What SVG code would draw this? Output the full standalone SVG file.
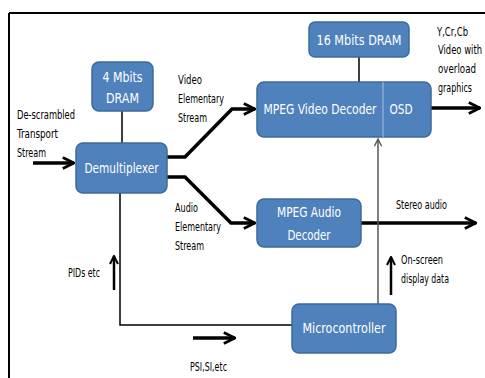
<svg xmlns="http://www.w3.org/2000/svg" width="485" height="378" viewBox="0 0 485 378">
<defs>
<marker id="ah" viewBox="0 0 10 10" refX="9" refY="5" markerWidth="4" markerHeight="4" orient="auto" markerUnits="strokeWidth"><path d="M1,1 L9,5 L1,9" fill="none" stroke="#000" stroke-width="2"/></marker>
<marker id="ahs" viewBox="0 0 10 10" refX="9" refY="5" markerWidth="6" markerHeight="6" orient="auto" markerUnits="strokeWidth"><path d="M1,1 L9,5 L1,9" fill="none" stroke="#555" stroke-width="1.5"/></marker>
</defs>
<style>
.box{fill:#4f81bd;stroke:#3c6a9c;stroke-width:1.5}
.bt{fill:#fff;font-family:"Liberation Sans Narrow","DejaVu Sans Condensed","Liberation Sans",sans-serif;font-size:14px;text-anchor:middle}
.lb{fill:#000;font-family:"Liberation Sans Narrow","DejaVu Sans Condensed","Liberation Sans",sans-serif;font-size:11.5px}
.thick{fill:none;stroke:#000;stroke-width:3.5}
.thin{fill:none;stroke:#000;stroke-width:1.5}
</style>
<rect width="485" height="378" fill="#fff"/>
<g id="frame">
<line x1="9" y1="13" x2="485" y2="13" stroke="#000" stroke-width="2"/>
<line x1="9" y1="13" x2="9" y2="378" stroke="#000" stroke-width="2"/>
</g>
<g id="connectors">
<line class="thin" x1="122" y1="111" x2="122" y2="143"/>
<line class="thin" x1="359" y1="57" x2="359" y2="82"/>
<path class="thick" d="M33,163 H74" marker-end="url(#ah)"/>
<path class="thick" d="M167,157 H185 L232,109 H255" marker-end="url(#ah)"/>
<path class="thick" d="M167,177 H185 L231,223 H255" marker-end="url(#ah)"/>
<path class="thick" d="M431,108 H480" marker-end="url(#ah)"/>
<path class="thick" d="M361,223 H476" marker-end="url(#ah)"/>
<path fill="none" stroke="#555" stroke-width="1.5" d="M378,304 V139" marker-end="url(#ahs)"/>
<path class="thin" d="M120,193 V325 H292"/>
<path fill="none" stroke="#000" stroke-width="2.5" d="M114,290 V256" marker-end="url(#ah)"/>
<path class="thick" d="M193,338 H235" marker-end="url(#ah)"/>
<path fill="none" stroke="#000" stroke-width="2.5" d="M391,295 V257" marker-end="url(#ah)"/>
</g>
<g id="dram4">
<rect class="box" x="92" y="62" width="61" height="49" rx="7"/>
<text class="bt" x="122.5" y="82" textLength="40" lengthAdjust="spacingAndGlyphs">4 Mbits</text>
<text class="bt" x="122.5" y="103" textLength="33" lengthAdjust="spacingAndGlyphs">DRAM</text>
</g>
<g id="demux">
<rect class="box" x="76" y="143" width="91" height="50" rx="7"/>
<text class="bt" x="121.5" y="173" textLength="74" lengthAdjust="spacingAndGlyphs">Demultiplexer</text>
</g>
<g id="dram16">
<rect class="box" x="309" y="22" width="100" height="35" rx="6"/>
<text class="bt" x="359" y="45" textLength="85" lengthAdjust="spacingAndGlyphs">16  Mbits DRAM</text>
</g>
<g id="video">
<rect class="box" x="257" y="82" width="174" height="55" rx="7"/>
<line x1="383" y1="82" x2="383" y2="137" stroke="#a9c1e0" stroke-width="1"/>
<text class="bt" x="320" y="114" textLength="113" lengthAdjust="spacingAndGlyphs">MPEG Video Decoder</text>
<text class="bt" x="401" y="114" textLength="23" lengthAdjust="spacingAndGlyphs">OSD</text>
</g>
<g id="audio">
<rect class="box" x="257" y="199" width="104" height="48" rx="7"/>
<text class="bt" x="309" y="217" textLength="64" lengthAdjust="spacingAndGlyphs">MPEG Audio</text>
<text class="bt" x="309" y="240" textLength="43" lengthAdjust="spacingAndGlyphs">Decoder</text>
</g>
<g id="micro">
<rect class="box" x="292" y="304" width="104" height="49" rx="7"/>
<text class="bt" x="344" y="333" textLength="83" lengthAdjust="spacingAndGlyphs">Microcontroller</text>
</g>
<g id="labels">
<text class="lb" x="17" y="119" textLength="58" lengthAdjust="spacingAndGlyphs">De-scrambled</text>
<text class="lb" x="17" y="138" textLength="41" lengthAdjust="spacingAndGlyphs">Transport</text>
<text class="lb" x="17" y="157" textLength="29" lengthAdjust="spacingAndGlyphs">Stream</text>
<text class="lb" x="178" y="84" textLength="24" lengthAdjust="spacingAndGlyphs">Video</text>
<text class="lb" x="178" y="103" textLength="46" lengthAdjust="spacingAndGlyphs">Elementary</text>
<text class="lb" x="178" y="122" textLength="29" lengthAdjust="spacingAndGlyphs">Stream</text>
<text class="lb" x="175" y="212" textLength="23" lengthAdjust="spacingAndGlyphs">Audio</text>
<text class="lb" x="175" y="231" textLength="46" lengthAdjust="spacingAndGlyphs">Elementary</text>
<text class="lb" x="175" y="250" textLength="29" lengthAdjust="spacingAndGlyphs">Stream</text>
<text class="lb" x="437" y="36" textLength="31" lengthAdjust="spacingAndGlyphs">Y,Cr,Cb</text>
<text class="lb" x="438" y="54" textLength="44" lengthAdjust="spacingAndGlyphs">Video with</text>
<text class="lb" x="438" y="73" textLength="38" lengthAdjust="spacingAndGlyphs">overload</text>
<text class="lb" x="438" y="92" textLength="34" lengthAdjust="spacingAndGlyphs">graphics</text>
<text class="lb" x="396" y="209" textLength="51" lengthAdjust="spacingAndGlyphs">Stereo audio</text>
<text class="lb" x="401" y="264" textLength="42" lengthAdjust="spacingAndGlyphs">On-screen</text>
<text class="lb" x="401" y="283" textLength="48" lengthAdjust="spacingAndGlyphs">display data</text>
<text class="lb" x="68" y="277" textLength="32" lengthAdjust="spacingAndGlyphs">PIDs etc</text>
<text class="lb" x="190" y="371" textLength="37" lengthAdjust="spacingAndGlyphs">PSI,SI,etc</text>
</g>
</svg>
